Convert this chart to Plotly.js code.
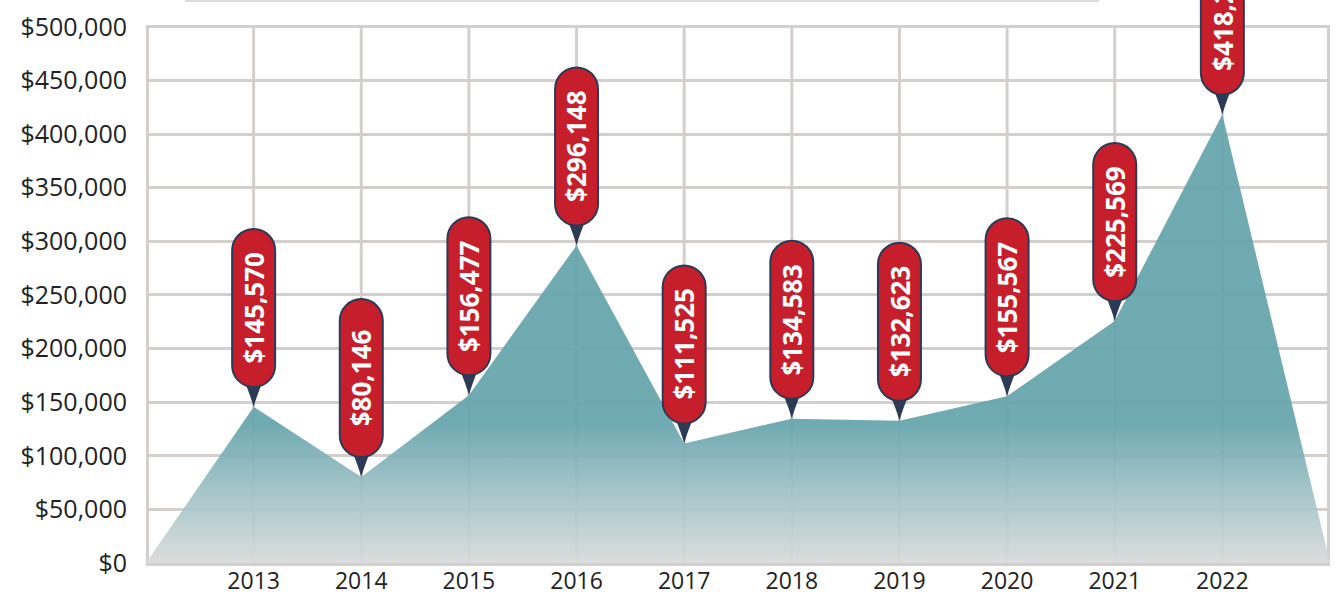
<!DOCTYPE html>
<html>
<head>
<meta charset="utf-8">
<script src="https://cdn.plot.ly/plotly-3.0.1.min.js"></script>
<style>
  html, body { margin: 0; padding: 0; background: #ffffff; }
  #chart { width: 1340px; height: 597px; }
</style>
</head>
<body>
<div id="chart"></div>
<script>
// yearly totals
var years = [2013, 2014, 2015, 2016, 2017, 2018, 2019, 2020, 2021, 2022];
var amounts = [145570, 80146, 156477, 296148, 111525, 134583, 132623, 155567, 225569, 418200];
var pinLabels = ["$145,570", "$80,146", "$156,477", "$296,148", "$111,525",
                 "$134,583", "$132,623", "$155,567", "$225,569", "$418,200"];
// area starts and ends at zero on the frame edges
var edgeYears = [2012, 2023];
var yTicks = [0, 50000, 100000, 150000, 200000, 250000, 300000, 350000, 400000, 450000, 500000];
var yTickText = ["$0", "$50,000", "$100,000", "$150,000", "$200,000", "$250,000",
                 "$300,000", "$350,000", "$400,000", "$450,000", "$500,000"];

var gridColor = "#d3cfcd";
var pinRed = "#c61f2b";
var pinNavy = "#2c3a56";

var xs = [edgeYears[0]].concat(years, [edgeYears[1]]);
var ys = [0].concat(amounts, [0]);

var area = {
  x: xs,
  y: ys,
  type: "scatter",
  mode: "none",
  fill: "tozeroy",
  hoverinfo: "skip",
  fillgradient: {
    type: "vertical",
    start: 0,
    stop: 130000,
    colorscale: [
      [0, "rgba(217,218,219,0.93)"],
      [0.5, "rgba(160,194,199,0.93)"],
      [1, "rgba(102,164,172,0.93)"]
    ]
  }
};

// pin geometry, pixels relative to the data point (y up)
var hw = 21.5, yb = 20, yt = 178, k = 0.5523 * hw;
function pillPath() {
  return "M " + (-hw) + "," + (yb + hw) +
    " L " + (-hw) + "," + (yt - hw) +
    " C " + (-hw) + "," + (yt - hw + k) + " " + (-k) + "," + yt + " 0," + yt +
    " C " + k + "," + yt + " " + hw + "," + (yt - hw + k) + " " + hw + "," + (yt - hw) +
    " L " + hw + "," + (yb + hw) +
    " C " + hw + "," + (yb + hw - k) + " " + k + "," + yb + " 0," + yb +
    " C " + (-k) + "," + yb + " " + (-hw) + "," + (yb + hw - k) + " " + (-hw) + "," + (yb + hw) + " Z";
}
var pointerPath = "M -10," + (yb + 8) + " Q -2,8 0,0 Q 2,8 10," + (yb + 8) + " Z";

var shapes = [];

// vertical grid lines, stopping at the top gridline
xs.forEach(function (yr, i) {
  var edge = (i === 0 || i === xs.length - 1);
  shapes.push({
    type: "line", layer: "below",
    xref: "x", yref: "y",
    x0: yr, x1: yr, y0: 0, y1: yTicks[yTicks.length - 1],
    line: {color: gridColor, width: edge ? 6 : 3}
  });
});

// faint edge of the title box at the very top
shapes.push({
  type: "line", xref: "paper", yref: "paper",
  x0: 0.033, x1: 0.805, y0: 0.999, y1: 0.999,
  line: {color: "#dcdcdc", width: 3}
});

years.forEach(function (yr, i) {
  shapes.push({
    type: "path", layer: "above",
    xref: "x", yref: "y",
    xsizemode: "pixel", ysizemode: "pixel",
    xanchor: yr, yanchor: amounts[i],
    path: pointerPath,
    fillcolor: pinNavy,
    line: {width: 0}
  });
  shapes.push({
    type: "path", layer: "above",
    xref: "x", yref: "y",
    xsizemode: "pixel", ysizemode: "pixel",
    xanchor: yr, yanchor: amounts[i],
    path: pillPath(),
    fillcolor: pinRed,
    line: {color: pinNavy, width: 2}
  });
});

var annotations = years.map(function (yr, i) {
  return {
    x: yr, y: amounts[i],
    xref: "x", yref: "y",
    yshift: (yb + yt) / 2,
    text: pinLabels[i],
    textangle: -90,
    showarrow: false,
    xanchor: "center", yanchor: "middle",
    font: {family: "Open Sans", size: 26, color: "#ffffff", weight: 700}
  };
});

var layout = {
  width: 1340,
  height: 597,
  margin: {l: 146, r: 10, t: 0, b: 34},
  paper_bgcolor: "#ffffff",
  plot_bgcolor: "#ffffff",
  showlegend: false,
  xaxis: {
    range: [edgeYears[0], edgeYears[1]],
    tickvals: years,
    ticktext: years.map(String),
    showgrid: false,
    zeroline: false,
    showline: true,
    linecolor: gridColor,
    linewidth: 3,
    ticks: "",
    ticklabelstandoff: -5,
    tickfont: {family: "Open Sans", size: 23, color: "#222222"},
    fixedrange: true
  },
  yaxis: {
    range: [0, 525000],
    tickvals: yTicks,
    ticktext: yTickText,
    showgrid: true,
    gridcolor: gridColor,
    gridwidth: 3,
    zeroline: false,
    showline: false,
    ticks: "",
    ticklabelstandoff: 18,
    tickfont: {family: "Open Sans", size: 25, color: "#222222"},
    fixedrange: true
  },
  shapes: shapes,
  annotations: annotations
};

Plotly.newPlot("chart", [area], layout, {displayModeBar: false, staticPlot: true});
</script>
</body>
</html>
